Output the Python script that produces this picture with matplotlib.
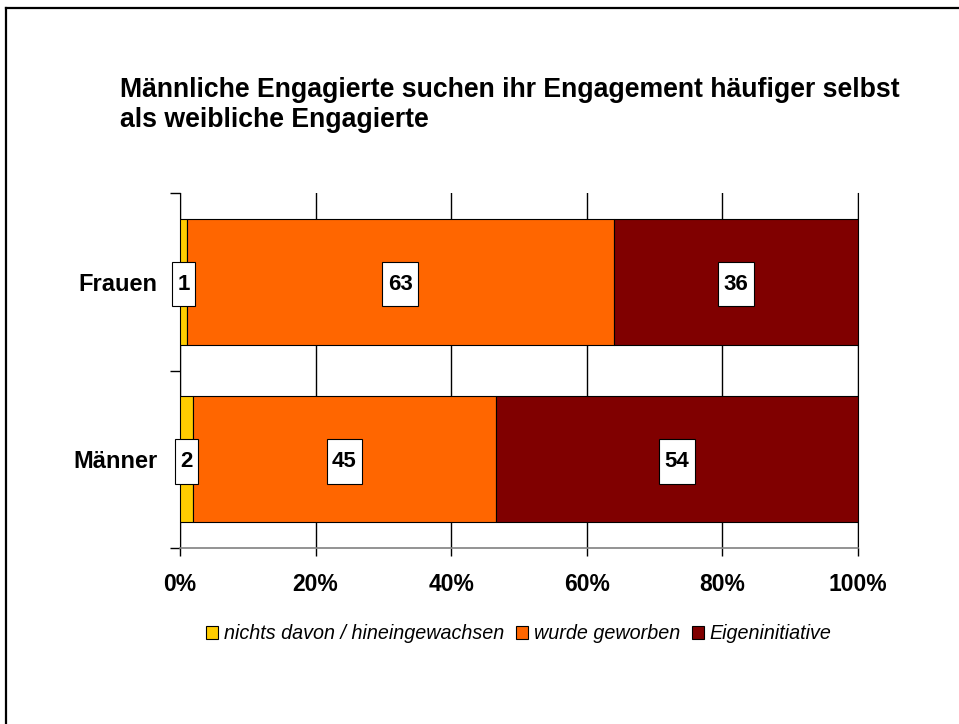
import matplotlib
matplotlib.use("Agg")
import matplotlib.pyplot as plt
from matplotlib.lines import Line2D
from matplotlib.path import Path
import numpy as np

plt.rcParams.update({
    "font.family": "Liberation Sans",
})

# ------------------ DATA ------------------ #
groups = ["Männer", "Frauen"]          # bottom to top
series = ["nichts davon / hineingewachsen", "wurde geworben", "Eigeninitiative"]
nichts = [2, 1]
geworben = [45, 63]
eigen = [54, 36]
xticks = [0, 20, 40, 60, 80, 100]
title = "Männliche Engagierte suchen ihr Engagement häufiger selbst\nals weibliche Engagierte"

COLORS = ["#FFCC00", "#FF6600", "#800000"]


def label_box(x0, y0, width, height, mutation_size):
    # tall white label box: small side padding, larger top/bottom padding
    px = 0.25 * mutation_size
    py = 0.53 * mutation_size
    x0, y0 = x0 - px, y0 - py
    x1, y1 = x0 + width + 2 * px, y0 + height + 2 * py
    return Path([(x0, y0), (x1, y0), (x1, y1), (x0, y1), (x0, y0)], closed=True)


# ------------------ FIGURE ------------------ #
fig = plt.figure(figsize=(9.59, 7.24), dpi=100)
ax = fig.add_axes([180 / 959, 1 - 548 / 724, 678 / 959, 355 / 724])

values = np.array([nichts, geworben, eigen], dtype=float)
shares = values / values.sum(axis=0) * 100
ypos = np.array([0.5, 1.5])

left = np.zeros(len(groups))
for i, name in enumerate(series):
    ax.barh(ypos, shares[i], left=left, height=0.71, color=COLORS[i],
            edgecolor="black", linewidth=0.8, label=name, zorder=3)
    for j in range(len(groups)):
        # baseline shifted down by half the cap height so digits sit centred
        ax.annotate(f"{int(values[i][j])}",
                    xy=(left[j] + shares[i][j] / 2, ypos[j]),
                    xytext=(0, -5.7), textcoords="offset points",
                    ha="center", va="baseline", fontsize=16,
                    fontweight="bold", zorder=5,
                    bbox=dict(boxstyle=label_box, facecolor="white",
                              edgecolor="black", linewidth=0.8))
    left += shares[i]

ax.set_xlim(0, 100)
ax.set_ylim(0, 2)

ax.set_xticks(xticks)
ax.set_xticklabels([f"{t}%" for t in xticks], fontsize=16.5, fontweight="bold")
ax.tick_params(axis="x", length=6, width=1, direction="out", pad=12)
ax.grid(axis="x", color="black", linewidth=1, zorder=0)

ax.set_yticks([0, 1, 2])
ax.set_yticklabels([])
ax.tick_params(axis="y", which="major", length=7, width=1, direction="out")
ax.set_yticks(ypos, minor=True)
ax.set_yticklabels(groups, minor=True, fontsize=17, fontweight="bold")
ax.tick_params(axis="y", which="minor", length=0, pad=16)

ax.spines["top"].set_visible(False)
ax.spines["right"].set_color("black")
ax.spines["left"].set_color("black")
ax.spines["bottom"].set_color("#808080")
ax.spines["bottom"].set_linewidth(1.2)

fig.text(120 / 959, 1 - 77 / 724, title, ha="left", va="top",
         fontsize=19.2, fontweight="bold", linespacing=1.2)

leg = ax.legend(loc="center", bbox_to_anchor=(0.5, -0.242), ncol=3,
                frameon=False, prop={"style": "italic", "size": 14.2},
                handlelength=0.6, handleheight=0.6, handletextpad=0.3,
                columnspacing=0.6, borderaxespad=0)

# outer frame (only top and left edges are visible in the image)
fig.add_artist(Line2D([6 / 959, 1.0], [1 - 8 / 724, 1 - 8 / 724],
                      color="black", linewidth=1.6))
fig.add_artist(Line2D([6 / 959, 6 / 959], [0, 1 - 8 / 724],
                      color="black", linewidth=1.6))

fig.savefig("out.png", dpi=100)
